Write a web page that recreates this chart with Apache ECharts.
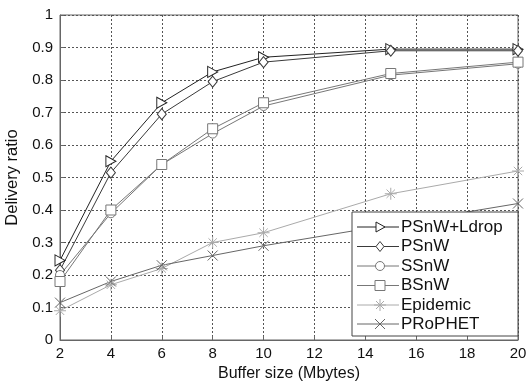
<!DOCTYPE html>
<html>
<head>
<meta charset="utf-8">
<script src="https://cdn.jsdelivr.net/npm/echarts@6/dist/echarts.min.js"></script>
<style>
  html, body { margin: 0; padding: 0; background: #fff; }
  #chart { width: 529px; height: 381px; }
</style>
</head>
<body>
<div id="chart"></div>
<script>
const bufferSizes = [2, 4, 6, 8, 10, 15, 20]
const psnwLdrop = [0.245, 0.55, 0.73, 0.825, 0.87, 0.895, 0.895]
const psnw = [0.215, 0.515, 0.695, 0.795, 0.855, 0.89, 0.89]
const ssnw = [0.20, 0.39, 0.54, 0.635, 0.72, 0.815, 0.85]
const bsnw = [0.18, 0.40, 0.54, 0.65, 0.73, 0.82, 0.855]
const epidemic = [0.09, 0.17, 0.22, 0.30, 0.33, 0.45, 0.52]
const prophet = [0.115, 0.18, 0.23, 0.26, 0.29, 0.355, 0.42]
const seriesNames = ['PSnW+Ldrop', 'PSnW', 'SSnW', 'BSnW', 'Epidemic', 'PRoPHET']

const pair = (ys) => bufferSizes.map((x, i) => [x, ys[i]])

// marker shapes (open strokes)
const triRight = 'path://M0,0 L10,5 L0,10 Z'
const star = 'path://M5,0 L5,10 M0,5 L10,5 M1.5,1.5 L8.5,8.5 M8.5,1.5 L1.5,8.5'
const cross = 'path://M0,0 L10,10 M10,0 L0,10'

const font = 'Arial, "Liberation Sans", sans-serif'
const colors = ['#222', '#3a3a3a', '#777', '#777', '#aaa', '#666']

function line(name, data, color, symbol, size) {
  return {
    name,
    type: 'line',
    data: pair(data),
    symbol,
    symbolSize: size,
    showAllSymbol: true,
    lineStyle: { color, width: 1 },
    itemStyle: { color: '#fff', borderColor: color, borderWidth: 1 },
    emphasis: { disabled: true },
    animation: false
  }
}

// hand-drawn legend box (matlab style)
const lgX = 352, lgY = 212, lgW = 166, lgH = 124
const rowY = [227, 246.5, 266, 285.5, 305, 324]
const legendEls = [{
  type: 'rect',
  shape: { x: lgX, y: lgY, width: lgW, height: lgH },
  style: { fill: '#fff', stroke: '#444', lineWidth: 1 },
  z: 100
}]
function seg(x1, y1, x2, y2, color) {
  return { type: 'line', shape: { x1, y1, x2, y2 }, style: { stroke: color, lineWidth: 1 }, z: 102 }
}
function mark(kind, cx, cy, color) {
  if (kind === 'tri') return [{ type: 'polygon', shape: { points: [[cx - 4, cy - 5], [cx + 5, cy], [cx - 4, cy + 5]] }, style: { fill: '#fff', stroke: color }, z: 102 }]
  if (kind === 'dia') return [{ type: 'polygon', shape: { points: [[cx, cy - 5], [cx + 4, cy], [cx, cy + 5], [cx - 4, cy]] }, style: { fill: '#fff', stroke: color }, z: 102 }]
  if (kind === 'cir') return [{ type: 'circle', shape: { cx, cy, r: 4.5 }, style: { fill: '#fff', stroke: color }, z: 102 }]
  if (kind === 'sq') return [{ type: 'rect', shape: { x: cx - 5, y: cy - 5, width: 10, height: 10 }, style: { fill: '#fff', stroke: color }, z: 102 }]
  if (kind === 'star') return [
    seg(cx, cy - 6, cx, cy + 6, color),
    seg(cx - 6, cy, cx + 6, cy, color),
    seg(cx - 4, cy - 4, cx + 4, cy + 4, color),
    seg(cx + 4, cy - 4, cx - 4, cy + 4, color)
  ]
  return [
    seg(cx - 5, cy - 5, cx + 5, cy + 5, color),
    seg(cx + 5, cy - 5, cx - 5, cy + 5, color)
  ]
}
const kinds = ['tri', 'dia', 'cir', 'sq', 'star', 'x']
seriesNames.forEach((n, i) => {
  const y = rowY[i]
  legendEls.push({ type: 'line', shape: { x1: 357, y1: y, x2: 399, y2: y }, style: { stroke: colors[i], lineWidth: 1 }, z: 101 })
  legendEls.push(...mark(kinds[i], 380, y, colors[i]))
  legendEls.push({ type: 'text', x: 401, y: y, style: { text: n, font: '17px ' + font, fill: '#111', verticalAlign: 'middle' }, z: 103 })
})

const chart = echarts.init(document.getElementById('chart'))
chart.setOption({
  backgroundColor: '#fff',
  animation: false,
  textStyle: { fontFamily: font },
  grid: {
    left: 60, right: 11, top: 15, bottom: 41,
    containLabel: false,
    outerBoundsMode: 'none',
    show: true, borderColor: '#666', borderWidth: 1
  },
  xAxis: {
    type: 'value',
    min: 2, max: 20, interval: 2,
    name: 'Buffer size (Mbytes)',
    nameLocation: 'middle',
    nameGap: 24,
    nameTextStyle: { fontSize: 16, color: '#111' },
    axisLine: { lineStyle: { color: '#666' } },
    axisTick: { inside: true, length: 4, lineStyle: { color: '#666' } },
    axisLabel: { fontSize: 15, color: '#111', margin: 6 },
    splitLine: { show: true, lineStyle: { color: '#555', type: [2, 2], width: 1 } }
  },
  yAxis: {
    type: 'value',
    min: 0, max: 1, interval: 0.1,
    name: 'Delivery ratio',
    nameLocation: 'middle',
    nameGap: 39,
    nameTextStyle: { fontSize: 16.5, color: '#111' },
    axisLine: { show: true, lineStyle: { color: '#666' } },
    axisTick: { show: true, inside: true, length: 4, lineStyle: { color: '#666' } },
    axisLabel: { fontSize: 15, color: '#111', margin: 7 },
    splitLine: { show: true, lineStyle: { color: '#555', type: [2, 2], width: 1 } }
  },
  graphic: legendEls,
  series: [
    line(seriesNames[0], psnwLdrop, colors[0], triRight, [10, 11]),
    line(seriesNames[1], psnw, colors[1], 'diamond', [9, 11]),
    line(seriesNames[2], ssnw, colors[2], 'circle', 9),
    line(seriesNames[3], bsnw, colors[3], 'rect', 10),
    line(seriesNames[4], epidemic, colors[4], star, 12),
    line(seriesNames[5], prophet, colors[5], cross, 10)
  ]
})
</script>
</body>
</html>
